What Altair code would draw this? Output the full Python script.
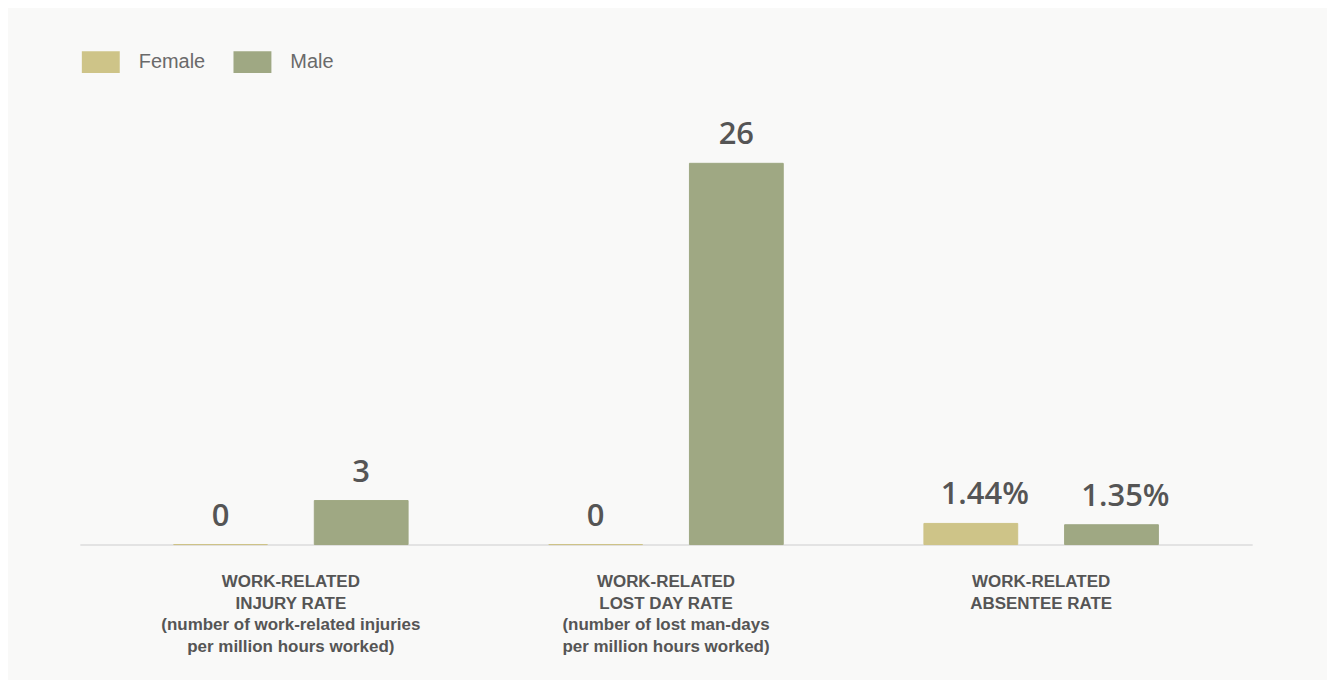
import altair as alt
import pandas as pd

categories = [
    "WORK-RELATED|INJURY RATE|(number of work-related injuries|per million hours worked)",
    "WORK-RELATED|LOST DAY RATE|(number of lost man-days|per million hours worked)",
    "WORK-RELATED|ABSENTEE RATE",
]
genders = ["Female", "Male"]
female_values = [0, 0, 1.44]
male_values = [3, 26, 1.35]
female_labels = ["0", "0", "1.44%"]
male_labels = ["3", "26", "1.35%"]
colors = ["#cec488", "#9fa883"]

rows = []
for i, c in enumerate(categories):
    rows.append({"category": c, "gender": "Female", "value": female_values[i], "label": female_labels[i]})
    rows.append({"category": c, "gender": "Male", "value": male_values[i], "label": male_labels[i]})
df = pd.DataFrame(rows)

base = alt.Chart(df).encode(
    x=alt.X(
        "category:N",
        sort=categories,
        scale=alt.Scale(paddingInner=0, paddingOuter=0.0625),
        axis=alt.Axis(
            title=None,
            labelAngle=0,
            labelExpr="split(datum.label, '|')",
            ticks=False,
            domainColor="#e3e3e3",
            domainWidth=2,
            labelPadding=29,
            labelFont="Liberation Sans",
            labelFontSize=17,
            labelFontWeight="bold",
            labelColor="#555555",
            labelLineHeight=21.8,
            labelBaseline="top",
            labelLimit=0,
            labelOverlap=False,
        ),
    ),
    xOffset=alt.XOffset("gender:N", sort=genders, scale=alt.Scale(paddingInner=1 / 3, paddingOuter=0.5)),
    y=alt.Y("value:Q", scale=alt.Scale(domain=[0, 29.6], nice=False), axis=None),
)

bars = base.mark_bar(strokeWidth=1).encode(
    color=alt.Color(
        "gender:N",
        sort=genders,
        scale=alt.Scale(domain=genders, range=colors),
        legend=alt.Legend(
            title=None,
            orient="none",
            direction="horizontal",
            legendX=2,
            legendY=-68,
            symbolType="M-1,-0.579H1V0.579H-1Z",
            symbolSize=1444,
            symbolStrokeWidth=0,
            symbolOpacity=1,
            labelOffset=19,
            columnPadding=28,
            labelFont="Liberation Sans",
            labelFontSize=20,
            labelColor="#6a6a6a",
            padding=0,
        ),
    ),
    stroke=alt.Stroke("gender:N", scale=alt.Scale(domain=genders, range=colors), legend=None),
)

text_style = dict(baseline="alphabetic", font="Open Sans", fontSize=31, fontWeight=600, color="#555555")

# plain numbers centred on the bar
text_plain = (
    base.mark_text(dy=-19, **text_style)
    .encode(text="label:N")
    .transform_filter("indexof(datum.label, '%') < 0")
)
# percentages: the number is centred and the % sign hangs to the right
text_pct = (
    base.mark_text(dy=-19, dx=14, **text_style)
    .encode(text="label:N")
    .transform_filter("indexof(datum.label, '%') >= 0")
)

chart = (
    alt.layer(bars, text_plain, text_pct)
    .properties(
        width=1175,
        height=435,
        autosize="none",
        padding={"left": 72, "top": 102, "right": 75, "bottom": 135},
        background="#f9f9f8",
    )
    .configure_view(stroke=None)
)

chart.save("out.html", embed_options={"renderer": "svg", "actions": False})
